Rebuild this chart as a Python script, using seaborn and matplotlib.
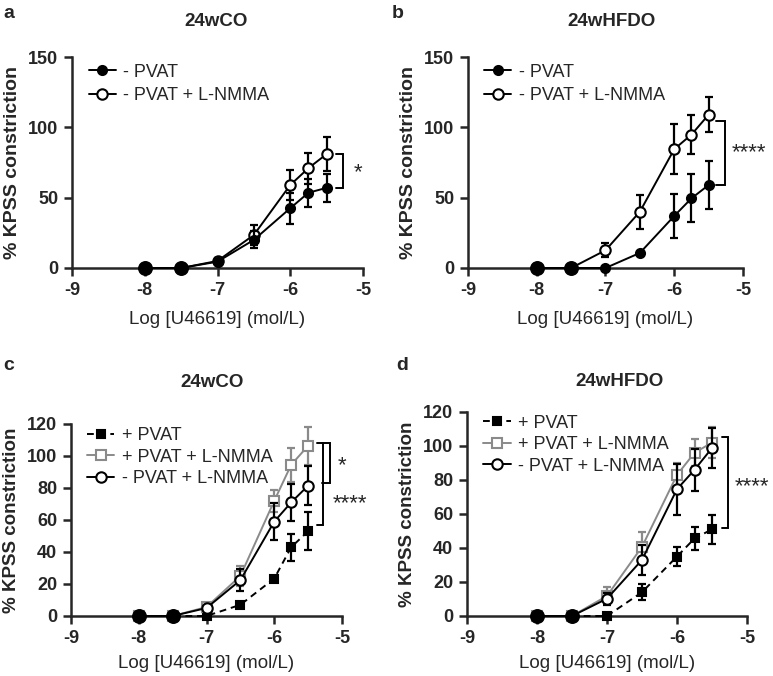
import numpy as np
import pandas as pd
import matplotlib
matplotlib.use("Agg")
import matplotlib.pyplot as plt
import seaborn as sns

sns.set_style("ticks")
plt.rcParams['font.family'] = ['Liberation Sans', 'DejaVu Sans']

# ---------------- data ----------------
log_conc = [-8, -7.5, -7, -6.5, -6, -5.75, -5.5]

# panel a (24wCO)
a_minus_pvat = [0, 0, 4.5, 20, 42.5, 53.5, 57]
a_minus_pvat_err = [0, 0, 2, 6, 11, 10, 10]
a_minus_lnmma = [0, 0, 5, 23.5, 59, 71, 81]
a_minus_lnmma_err = [0, 0, 2, 7, 11, 11, 12]

# panel b (24wHFDO)
b_minus_pvat = [0, 0, 0, 10.7, 37, 49.5, 59]
b_minus_pvat_err = [0, 0, 0, 1, 15.5, 17, 17]
b_minus_lnmma = [0, 0, 12.6, 40, 84.5, 94.8, 109]
b_minus_lnmma_err = [0, 0, 5, 12, 18, 14, 12.5]

# panel c (24wCO)
c_plus_pvat = [0, 0, 0, 7, 23.4, 43, 53]
c_plus_pvat_err = [0, 0, 0, 1, 1, 8.5, 11.7]
c_plus_lnmma = [0, 0, 5.6, 25, 72, 94.5, 106.4]
c_plus_lnmma_err = [0, 0, 1.5, 6, 7, 10.5, 11.8]
c_minus_lnmma = [0, 0, 5, 22.4, 59, 71, 81.5]
c_minus_lnmma_err = [0, 0, 1.5, 7, 11.5, 11.5, 12]

# panel d (24wHFDO)
d_plus_pvat = [0, 0, 0, 14, 35, 45.6, 51]
d_plus_pvat_err = [0, 0, 0, 4.7, 5.4, 6.5, 8.4]
d_plus_lnmma = [0, 0, 11.8, 40.7, 83, 96, 102]
d_plus_lnmma_err = [0, 0, 5, 8.5, 7, 8, 9]
d_minus_lnmma = [0, 0, 10.2, 33, 74.6, 86, 98.8]
d_minus_lnmma_err = [0, 0, 3.5, 9, 15, 12.5, 12]

titles = ["24wCO", "24wHFDO", "24wCO", "24wHFDO"]
letters = ["a", "b", "c", "d"]
x_ticks = [-9, -8, -7, -6, -5]
x_ticklabels = ["-9", "-8", "-7", "-6", "-5"]
y_ticks_ab = [0, 50, 100, 150]
y_ticks_cd = [0, 20, 40, 60, 80, 100, 120]
xlabel = "Log [U46619] (mol/L)"
ylabel = "% KPSS constriction"

lbl_minus_pvat = "- PVAT"
lbl_minus_lnmma = "- PVAT + L-NMMA"
lbl_plus_pvat = "+ PVAT"
lbl_plus_lnmma = "+ PVAT + L-NMMA"

# ---------------- style definitions ----------------
GRAY = "#8a8a8a"
styles = {
    "minus_pvat": dict(color="black", marker="o", mfc="black", mec="black", ls="-", ms=6.5),
    "minus_lnmma": dict(color="black", marker="o", mfc="white", mec="black", ls="-", ms=7.5),
    "plus_pvat": dict(color="black", marker="s", mfc="black", mec="black", ls=(0, (3.5, 2.5)), ms=6),
    "plus_lnmma": dict(color=GRAY, marker="s", mfc="white", mec=GRAY, ls="-", ms=7),
}

W, H = 773, 676
fig = plt.figure(figsize=(W / 100, H / 100), dpi=100)


def frac_axes(left, top, right, bottom):
    return fig.add_axes([left / W, 1 - bottom / H, (right - left) / W, (bottom - top) / H])


axes = [
    frac_axes(72, 57, 363, 268),
    frac_axes(468, 57, 743, 268),
    frac_axes(71, 424, 342, 616),
    frac_axes(467, 412, 747, 616),
]


def draw_series(ax, y, err, key, label, z):
    st = styles[key]
    df = pd.DataFrame({"x": log_conc, "y": y})
    ax.errorbar(log_conc, y, yerr=err, fmt="none", ecolor=st["color"], elinewidth=1.6,
                capsize=3.2, capthick=1.6, zorder=z, clip_on=False)
    sns.lineplot(data=df, x="x", y="y", ax=ax, color=st["color"], linestyle=st["ls"],
                 marker=st["marker"], markersize=st["ms"], markerfacecolor=st["mfc"],
                 markeredgecolor=st["mec"], markeredgewidth=1.5, linewidth=1.4,
                 label=label, errorbar=None, zorder=z + 0.5, clip_on=False)


def baseline_dots(ax, y, err):
    # overlapping zero-response points render as solid black dots
    df = pd.DataFrame({"x": log_conc, "y": y, "e": err})
    df = df[(df["y"] == 0) & (df["e"] == 0) & (df["x"] < -7.2)]
    sns.scatterplot(data=df, x="x", y="y", ax=ax, color="black", s=95, marker="o",
                    edgecolor="black", linewidth=1, zorder=10, clip_on=False, legend=False)


def bracket(ax, x, y_top, y_bot, tick_len, lw=1.4):
    ax.plot([x - tick_len, x, x, x - tick_len], [y_top, y_top, y_bot, y_bot],
            color="black", lw=lw, clip_on=False, solid_joinstyle="miter")


# panel a
ax = axes[0]
draw_series(ax, a_minus_lnmma, a_minus_lnmma_err, "minus_lnmma", lbl_minus_lnmma, 3)
draw_series(ax, a_minus_pvat, a_minus_pvat_err, "minus_pvat", lbl_minus_pvat, 5)
baseline_dots(ax, a_minus_pvat, a_minus_pvat_err)
bracket(ax, -5.27, 81, 57, 0.1)
ax.text(-5.07, 68, "*", fontsize=16, ha="center", va="center")

# panel b
ax = axes[1]
draw_series(ax, b_minus_lnmma, b_minus_lnmma_err, "minus_lnmma", lbl_minus_lnmma, 3)
draw_series(ax, b_minus_pvat, b_minus_pvat_err, "minus_pvat", lbl_minus_pvat, 5)
baseline_dots(ax, b_minus_pvat, b_minus_pvat_err)
bracket(ax, -5.26, 104.5, 59, 0.14)
ax.text(-5.16, 82, "****", fontsize=16, ha="left", va="center", clip_on=False)

# panel c
ax = axes[2]
draw_series(ax, c_plus_pvat, c_plus_pvat_err, "plus_pvat", lbl_plus_pvat, 3)
draw_series(ax, c_plus_lnmma, c_plus_lnmma_err, "plus_lnmma", lbl_plus_lnmma, 4)
draw_series(ax, c_minus_lnmma, c_minus_lnmma_err, "minus_lnmma", lbl_minus_lnmma, 5)
baseline_dots(ax, c_minus_lnmma, c_minus_lnmma_err)
bracket(ax, -5.18, 108, 83, 0.12)
bracket(ax, -5.28, 108, 57, 0.09)
ax.text(-5.0, 94, "*", fontsize=16, ha="center", va="center", clip_on=False)
ax.text(-4.88, 70, "****", fontsize=16, ha="center", va="center", clip_on=False)

# panel d
ax = axes[3]
draw_series(ax, d_plus_pvat, d_plus_pvat_err, "plus_pvat", lbl_plus_pvat, 3)
draw_series(ax, d_plus_lnmma, d_plus_lnmma_err, "plus_lnmma", lbl_plus_lnmma, 4)
draw_series(ax, d_minus_lnmma, d_minus_lnmma_err, "minus_lnmma", lbl_minus_lnmma, 5)
baseline_dots(ax, d_minus_lnmma, d_minus_lnmma_err)
bracket(ax, -5.27, 105.5, 52, 0.09)
ax.text(-5.17, 76, "****", fontsize=16, ha="left", va="center", clip_on=False)

# common axis formatting
for i, ax in enumerate(axes):
    ax.set_xlim(-9, -5)
    ax.set_xticks(x_ticks, labels=x_ticklabels, fontweight="bold", fontsize=13)
    if i < 2:
        ax.set_ylim(0, 150)
        ax.set_yticks(y_ticks_ab, labels=[str(v) for v in y_ticks_ab], fontweight="bold", fontsize=13)
        ylab_size = 14
    else:
        ax.set_ylim(0, 120)
        ax.set_yticks(y_ticks_cd, labels=[str(v) for v in y_ticks_cd], fontweight="bold", fontsize=13)
        ylab_size = 13.5
    sns.despine(ax=ax)
    for sp in ("left", "bottom"):
        ax.spines[sp].set_linewidth(1.8)
    ax.tick_params(axis="both", direction="out", length=6, width=1.8, pad=4)
    ax.set_xlabel(xlabel, fontsize=13.5, labelpad=9 if i < 2 else 6)
    ax.set_ylabel(ylabel, fontsize=ylab_size, fontweight="bold", labelpad=5)
    ax.set_facecolor("none")

    handles, labels = ax.get_legend_handles_labels()
    order = [labels.index(l) for l in ([lbl_minus_pvat, lbl_minus_lnmma] if i < 2
                                       else [lbl_plus_pvat, lbl_plus_lnmma, lbl_minus_lnmma])]
    ax.legend([handles[k] for k in order], [labels[k] for k in order],
              loc="upper left", bbox_to_anchor=(0.02, 1.02 if i < 2 else 1.04),
              frameon=False, fontsize=13,
              handlelength=1.5, handletextpad=0.4, labelspacing=0.35 if i < 2 else 0.25,
              borderaxespad=0.2)

# titles and panel letters
fig.text(216 / W, 1 - 22 / H, titles[0], fontsize=13.5, fontweight="bold", ha="center", va="center")
fig.text(612 / W, 1 - 22 / H, titles[1], fontsize=13.5, fontweight="bold", ha="center", va="center")
fig.text(212 / W, 1 - 383 / H, titles[2], fontsize=13.5, fontweight="bold", ha="center", va="center")
fig.text(620 / W, 1 - 382 / H, titles[3], fontsize=13.5, fontweight="bold", ha="center", va="center")

fig.text(9 / W, 1 - 14 / H, letters[0], fontsize=14, fontweight="bold", ha="center", va="center")
fig.text(398 / W, 1 - 14 / H, letters[1], fontsize=14, fontweight="bold", ha="center", va="center")
fig.text(9 / W, 1 - 366 / H, letters[2], fontsize=14, fontweight="bold", ha="center", va="center")
fig.text(402 / W, 1 - 365 / H, letters[3], fontsize=14, fontweight="bold", ha="center", va="center")

fig.savefig("out.png", dpi=100)
